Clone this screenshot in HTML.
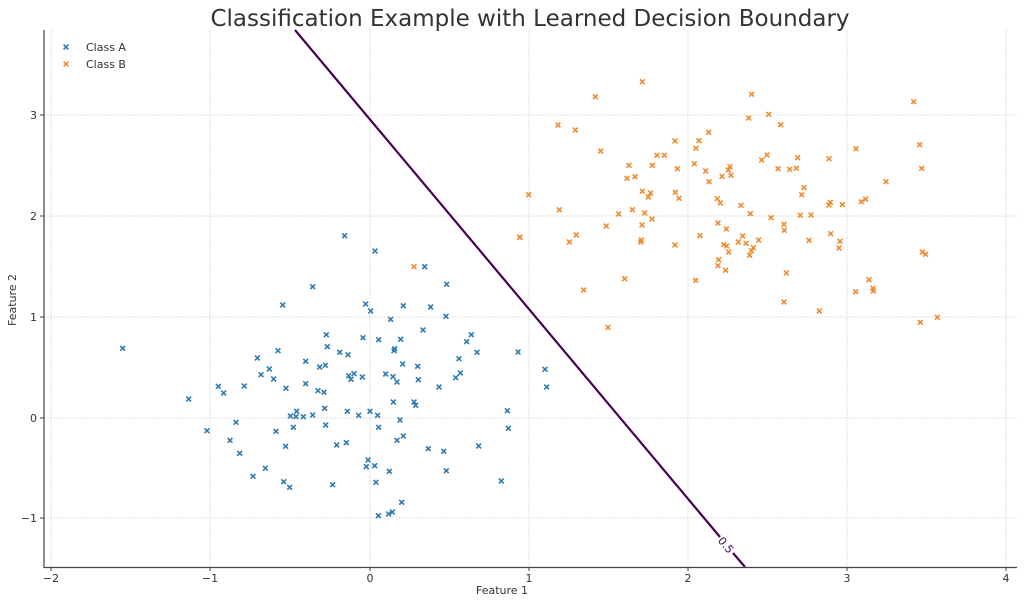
<!DOCTYPE html>
<html><head><meta charset="utf-8"><style>
body{margin:0;background:#fff;}
svg{display:block;font-family:"DejaVu Sans","Liberation Sans",sans-serif;}
</style></head><body>
<svg id="s" width="1024" height="603" viewBox="0 0 1024 603" xmlns="http://www.w3.org/2000/svg">
<rect width="1024" height="603" fill="#fff"/>
<g id="grid" stroke="#d8d8d8" stroke-width="0.8" stroke-dasharray="2,1"></g>
<text x="530" y="26" text-anchor="middle" font-size="23" fill="#333">Classification Example with Learned Decision Boundary</text>
<g id="pts"></g>
<line x1="295" y1="30" x2="720" y2="537" stroke="#440154" stroke-width="2.2"/>
<line x1="733" y1="553" x2="745" y2="567" stroke="#440154" stroke-width="2.2"/>
<text x="0" y="0" font-size="11" fill="#440154" text-anchor="middle" transform="translate(726,545) rotate(50)" dy="4">0.5</text>
<line x1="44" y1="30" x2="44" y2="568" stroke="#444" stroke-width="1.2"/>
<line x1="44" y1="567.5" x2="1017" y2="567.5" stroke="#444" stroke-width="1.2"/>
<g id="ticks" font-size="11" fill="#333"></g>
<text x="502" y="594" text-anchor="middle" font-size="11" fill="#333">Feature 1</text>
<text transform="translate(16,300) rotate(-90)" text-anchor="middle" font-size="11" fill="#333">Feature 2</text>
<g font-size="11" fill="#333">
<text x="86" y="51">Class A</text>
<text x="86" y="68">Class B</text>
</g>
<g id="leg"></g>
</svg>
<script>
var NS="http://www.w3.org/2000/svg";
function el(t,a,p){var e=document.createElementNS(NS,t);for(var k in a)e.setAttribute(k,a[k]);p.appendChild(e);return e;}
var g=document.getElementById('grid'),tk=document.getElementById('ticks');
var xs=[51,210,370,529,688,847,1006],xl=['−2','−1','0','1','2','3','4'];
xs.forEach(function(x,i){el('line',{x1:x,y1:30,x2:x,y2:567},g);el('line',{x1:x,y1:567,x2:x,y2:571,stroke:'#444'},tk);var t=el('text',{x:x,y:582,'text-anchor':'middle'},tk);t.textContent=xl[i];});
var ys=[115,216,317,418,518],yl=['3','2','1','0','−1'];
ys.forEach(function(y,i){el('line',{x1:44,y1:y,x2:1017,y2:y},g);el('line',{x1:40,y1:y,x2:44,y2:y,stroke:'#444'},tk);var t=el('text',{x:37,y:y+4,'text-anchor':'end'},tk);t.textContent=yl[i];});
var A=[734,47,825,93,974,140,1040,193,638,200,548,255,797,252,812,273,910,257,992,261,872,298,1038,289,969,330,679,344,789,353,836,359,902,358,1114,344,1100,365,68,385,682,380,719,397,744,404,884,386,882,392,1131,397,1254,396,472,414,534,392,617,424,659,441,676,436,908,432,953,439,1077,416,1335,448,508,447,483,464,521,477,746,467,753,478,762,461,787,471,857,462,879,470,891,486,955,479,1081,459,1067,473,1017,501,1340,501,355,499,371,519,433,498,558,505,617,491,654,512,672,517,266,537,880,546,942,546,947,556,1222,572,1225,625,571,588,590,574,588,590,610,590,638,585,674,565,742,574,776,586,810,574,833,586,408,607,321,632,528,634,580,622,677,615,836,622,900,600,390,661,557,679,710,675,739,668,891,661,910,648,985,686,1031,694,1136,678,419,700,496,745,459,769,551,785,569,802,698,794,804,720,799,740,824,737,868,754,828,787,1039,752,1204,783,905,847,835,887,866,882,877,876];
var B=[427,35,286,80,755,73,1241,95,174,165,226,180,746,144,806,133,842,164,525,213,597,212,588,235,626,187,302,243,1068,236,1259,224,1265,295,471,256,493,256,387,286,457,286,532,296,583,281,617,303,666,319,685,300,690,290,693,316,627,335,785,270,801,255,834,296,869,298,889,295,893,263,987,266,381,325,405,320,427,364,452,369,445,381,526,367,537,385,652,386,661,399,723,406,751,431,813,443,901,436,933,435,912,353,905,374,987,405,991,397,1027,404,1084,395,1097,387,1158,335,86,374,178,419,356,432,397,419,434,429,456,447,319,468,426,465,654,459,679,477,852,463,853,481,60,502,229,495,208,516,424,510,422,516,525,525,600,497,728,498,715,516,738,520,776,510,671,524,680,528,686,546,760,533,754,542,749,556,927,511,992,491,1020,514,1017,534,1267,546,1277,553,656,569,654,587,677,601,859,609,587,631,374,626,251,660,852,696,958,723,1107,629,1067,665,1119,655,1120,663,1261,757,1312,742,324,772];
var P=document.getElementById('pts');
function mk(x,y,c,p){var d=2.4;el('path',{d:'M'+(x-d)+' '+(y-d)+'L'+(x+d)+' '+(y+d)+'M'+(x-d)+' '+(y+d)+'L'+(x+d)+' '+(y-d),stroke:c,'stroke-width':1.6,fill:'none'},p);}
var CA='#2f7ab0',CB='#f08a30';
for(var i=0;i<A.length;i+=2)mk(A[i]/3+100,A[i+1]/3+220,CA,P);
mk(942/3+100,140/3+220,CB,P);mk(1259/3+100,52/3+220,CB,P);
for(var i=0;i<B.length;i+=2)mk(B[i]/3+500,B[i+1]/3+70,CB,P);
var L=document.getElementById('leg');mk(66,47,CA,L);mk(66,64,CB,L);
</script>
</body></html>
